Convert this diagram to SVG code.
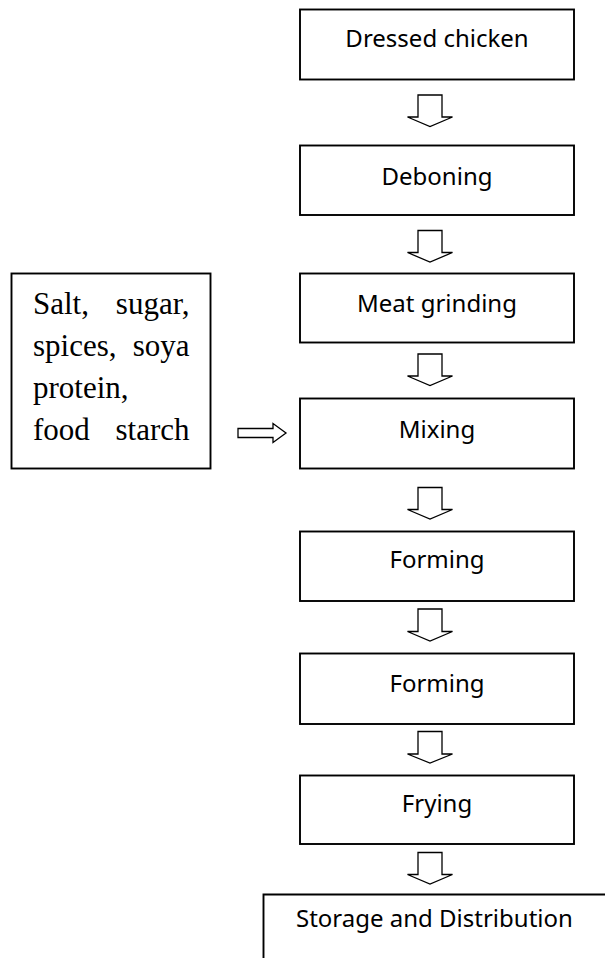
<svg xmlns="http://www.w3.org/2000/svg" width="605" height="958" viewBox="0 0 605 958">
<style>
.box{fill:#fff;stroke:#000;stroke-width:1.9}
.lbl{font-family:"Noto Sans","Open Sans","Liberation Sans",sans-serif;font-size:24px;fill:#000;text-anchor:middle}
.ser{font-family:"Liberation Serif","Times New Roman",serif;font-size:31px;fill:#000}
.arr{fill:#fff;stroke:#000;stroke-width:1.3;stroke-linejoin:miter}
</style>
<rect width="605" height="958" fill="#fff"/>
<g id="n-dressed"><rect class="box" x="300" y="9.5" width="274" height="70"/><text class="lbl" x="437" y="47">Dressed chicken</text></g>
<g id="n-deboning"><rect class="box" x="300" y="145.5" width="274" height="69.5"/><text class="lbl" x="437" y="185">Deboning</text></g>
<g id="n-grinding"><rect class="box" x="300" y="273.5" width="274" height="69"/><text class="lbl" x="437" y="312">Meat grinding</text></g>
<g id="n-mixing"><rect class="box" x="300" y="398.5" width="274" height="70"/><text class="lbl" x="437" y="437.5">Mixing</text></g>
<g id="n-forming1"><rect class="box" x="300" y="531.5" width="274" height="69.5"/><text class="lbl" x="437" y="568">Forming</text></g>
<g id="n-forming2"><rect class="box" x="300" y="653.5" width="274" height="70.5"/><text class="lbl" x="437" y="692">Forming</text></g>
<g id="n-frying"><rect class="box" x="300" y="775.5" width="274" height="68.5"/><text class="lbl" x="437" y="812">Frying</text></g>
<g id="n-storage"><path class="box" d="M263.5,960 V894.5 H610"/><text class="lbl" x="296" y="927" style="text-anchor:start">Storage and Distribution</text></g>
<g id="n-ingredients"><rect class="box" x="11.5" y="273.5" width="199" height="195"/>
<text class="ser" y="314"><tspan x="33">Salt,</tspan><tspan x="189.5" text-anchor="end">sugar,</tspan></text>
<text class="ser" y="356"><tspan x="33">spices,</tspan><tspan x="189.5" text-anchor="end">soya</tspan></text>
<text class="ser" y="398"><tspan x="33">protein,</tspan></text>
<text class="ser" y="440"><tspan x="33">food</tspan><tspan x="189.5" text-anchor="end">starch</tspan></text>
</g>
<g id="connectors">
<polygon class="arr" points="418,95 442,95 442,117 452.5,117 430,126.5 407.5,117 418,117"/>
<polygon class="arr" points="418,230.5 442,230.5 442,252.5 452.5,252.5 430,262 407.5,252.5 418,252.5"/>
<polygon class="arr" points="418,354 442,354 442,376 452.5,376 430,385.5 407.5,376 418,376"/>
<polygon class="arr" points="418,487.5 442,487.5 442,509.5 452.5,509.5 430,519 407.5,509.5 418,509.5"/>
<polygon class="arr" points="418,609 442,609 442,631.5 452.5,631.5 430,641 407.5,631.5 418,631.5"/>
<polygon class="arr" points="418,731.5 442,731.5 442,754 452.5,754 430,763 407.5,754 418,754"/>
<polygon class="arr" points="418,852.5 442,852.5 442,874.5 452.5,874.5 430,884 407.5,874.5 418,874.5"/>
<polygon class="arr" points="238,428.5 273,428.5 273,423.5 286,433 273,442.5 273,437.5 238,437.5"/>
</g>
</svg>
